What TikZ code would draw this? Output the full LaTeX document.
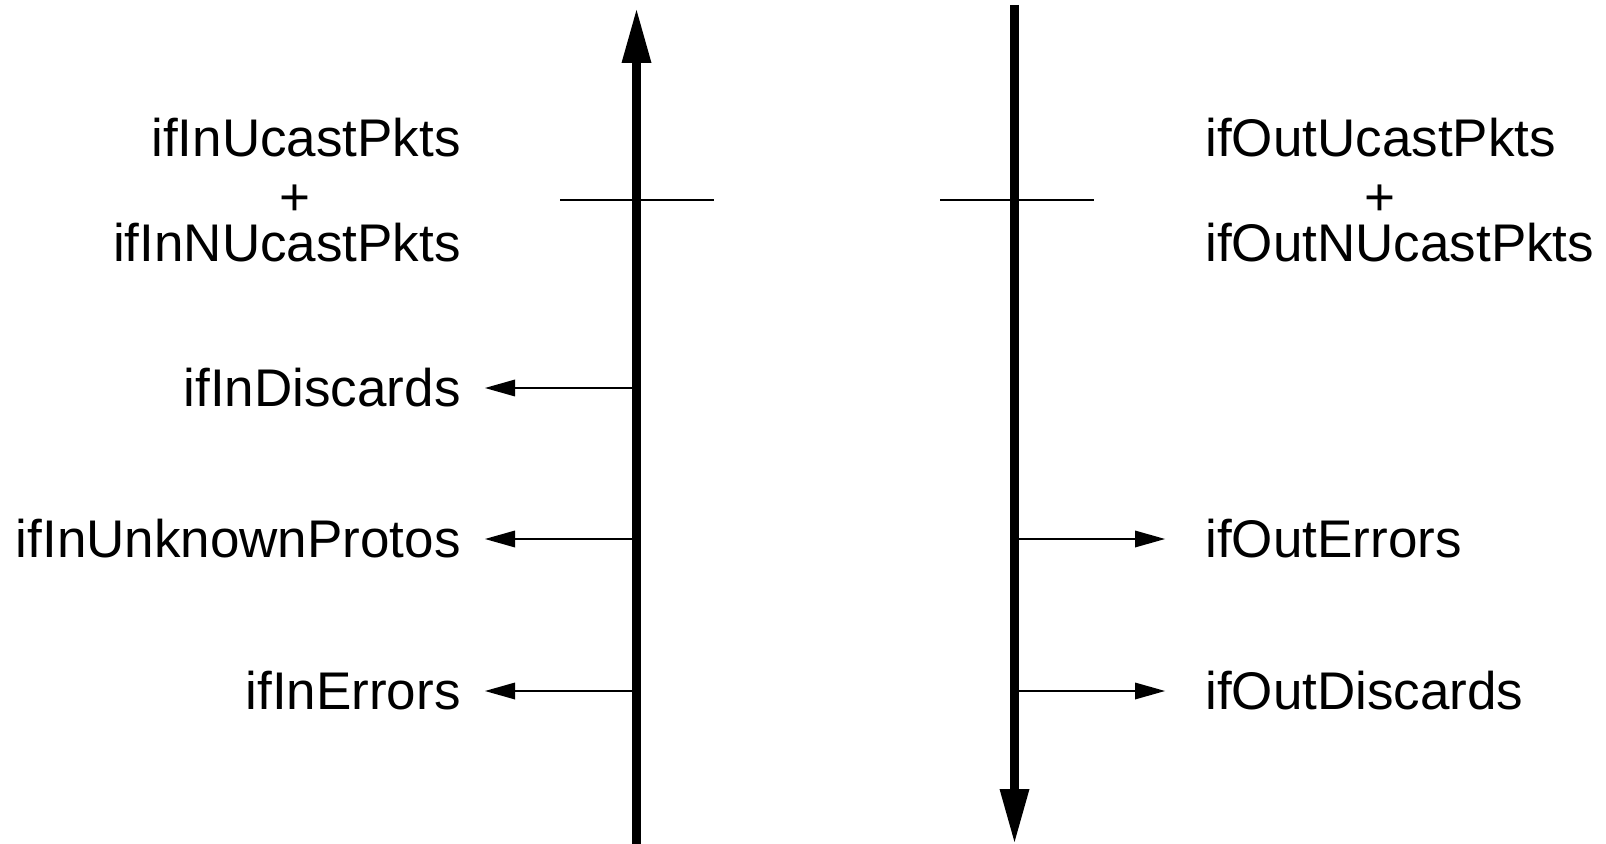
\documentclass[tikz,border=0pt]{standalone}
\usepackage{fontspec}
\setmainfont{Liberation Sans}
\usetikzlibrary{arrows.meta,positioning,calc}

\tikzset{
	bigarrow/.style={line width=4.5pt, -{Triangle[length=26.5pt, width=15pt, line width=0pt]}},
	smallarrow/.style={line width=1pt, -{Triangle[length=15pt, width=8.5pt, line width=0pt]}},
	tick/.style={line width=1pt},
	lbl/.style={inner sep=0pt, font=\fontsize{26.5}{26.5}\selectfont}
}

\begin{document}
\begin{tikzpicture}[x=0.5pt, y=-0.5pt]
	\useasboundingbox (0,0) rectangle (1606,844);
	% the two main lines
	\coordinate (inbot) at (636.5,844);
	\coordinate (intop) at (636.5,10);
	\coordinate (outtop) at (1014.5,5);
	\coordinate (outbot) at (1014.5,842);
	\draw[bigarrow] (inbot) -- (intop);
	\draw[bigarrow] (outtop) -- (outbot);
	\draw[tick] (560,200) -- (714,200);
	\draw[tick] (940,200) -- (1094,200);
	% packet counters
	\node[lbl, anchor=base east] (inU) at (461,157) {ifInUcastPkts};
	\node[lbl, anchor=base] (inplus) at (295,216) {+};
	\node[lbl, anchor=base east] (inNU) at (461,262) {ifInNUcastPkts};
	\node[lbl, anchor=base west] (outU) at (1205,157) {ifOutUcastPkts};
	\node[lbl, anchor=base] (outplus) at (1380,216) {+};
	\node[lbl, anchor=base west] (outNU) at (1205,262) {ifOutNUcastPkts};
	% lost packets
	\node[lbl, anchor=east] (inDisc) at (461,388) {ifInDiscards};
	\node[lbl, anchor=east] (inUnk) at (461,539) {ifInUnknownProtos};
	\node[lbl, anchor=east] (inErr) at (461,691) {ifInErrors};
	\node[lbl, anchor=west] (outErr) at (1205,539) {ifOutErrors};
	\node[lbl, anchor=west] (outDisc) at (1205,691) {ifOutDiscards};
	\foreach \n in {inDisc,inUnk,inErr}
		\draw[smallarrow, shorten >=12pt] (\n.east -| intop) -- (\n.east);
	\foreach \n in {outErr,outDisc}
		\draw[smallarrow, shorten >=20pt] (\n.west -| outtop) -- (\n.west);
\end{tikzpicture}
\end{document}
